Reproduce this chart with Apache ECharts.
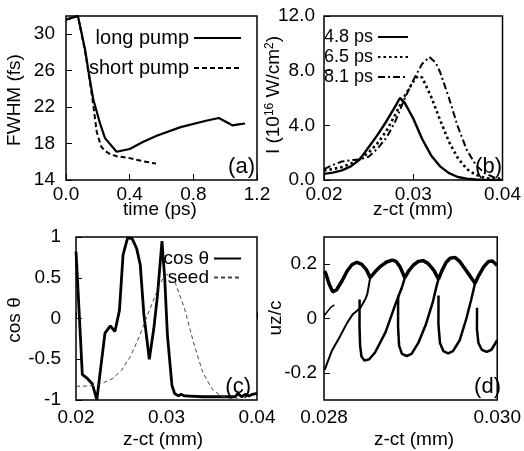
<!DOCTYPE html>
<html><head><meta charset="utf-8">
<script src="https://cdn.jsdelivr.net/npm/echarts@6/dist/echarts.min.js"></script>
<style>html,body{margin:0;padding:0;background:#fff}#c{width:524px;height:451px}</style>
</head><body><div id="c"></div>
<script>
// ---- panel (a): FWHM vs time ----
const aLong = [[0,31.6],[0.075,32.0],[0.12,28.3],[0.15,25.0],[0.172,22.8],[0.214,20.2],[0.245,18.6],[0.318,17.1],[0.40,17.4],[0.486,18.2],[0.57,18.85],[0.72,19.8],[0.88,20.5],[0.96,20.8],[1.045,20.0],[1.085,20.1],[1.125,20.2]];
const aShort = [[0,31.6],[0.075,32.0],[0.12,28.1],[0.15,24.8],[0.17,22.4],[0.193,19.3],[0.22,17.7],[0.245,17.2],[0.28,16.8],[0.32,16.6],[0.40,16.4],[0.486,16.05],[0.565,15.8]];
const aXTicks = [0,0.4,0.8,1.2];
const aYTicks = [14,18,22,26,30];
// ---- panel (b): intensity ----
const b48 = [[0.020,0.45],[0.021,0.54],[0.022,0.7],[0.023,1.0],[0.024,1.5],[0.025,2.4],[0.026,3.3],[0.027,4.3],[0.028,5.4],[0.0285,6.0],[0.029,5.7],[0.030,4.5],[0.031,3.0],[0.032,1.8],[0.033,1.0],[0.034,0.5],[0.035,0.22],[0.036,0.09],[0.037,0.04],[0.038,0.015],[0.040,0]];
const b65 = [[0.020,0.7],[0.021,0.8],[0.022,0.95],[0.023,1.2],[0.024,1.55],[0.025,2.0],[0.026,2.7],[0.027,3.6],[0.028,4.8],[0.029,6.1],[0.030,7.2],[0.0305,7.6],[0.031,7.5],[0.032,6.1],[0.033,4.4],[0.034,2.8],[0.035,1.6],[0.036,0.8],[0.037,0.38],[0.038,0.16],[0.039,0.06],[0.040,0.02]];
const b81 = [[0.020,0.8],[0.021,1.1],[0.022,1.35],[0.023,1.45],[0.024,1.5],[0.025,1.7],[0.026,2.3],[0.027,3.1],[0.028,4.3],[0.029,5.9],[0.030,7.3],[0.031,8.5],[0.0318,9.0],[0.0325,8.6],[0.033,7.9],[0.034,6.0],[0.035,3.9],[0.036,2.2],[0.037,1.1],[0.038,0.5],[0.039,0.2],[0.040,0.08]];
// ---- panel (c): cos theta and seed ----
const cCos = [[0.0200,0.82],[0.0201,0.62],[0.0207,-0.69],[0.0212,-0.73],[0.0218,-0.80],[0.0223,-1.0],[0.0232,-0.18],[0.0238,-0.09],[0.0243,-0.16],[0.0248,0.10],[0.0252,0.78],[0.0257,0.99],[0.0262,0.98],[0.0267,0.86],[0.0271,0.66],[0.0275,0.05],[0.0281,-0.50],[0.0286,-0.12],[0.0290,0.28],[0.0295,0.95],[0.0298,0.50],[0.0301,-0.20],[0.0306,-0.82],[0.0309,-0.92],[0.0313,-0.95],[0.0316,-0.93],[0.032,-0.95],[0.034,-0.96],[0.036,-0.96],[0.0376,-0.96],[0.0379,-0.92],[0.0383,-0.96],[0.0387,-0.93],[0.0391,-0.95],[0.0395,-0.93],[0.040,-0.92]];
const cSeed = [[0.020,-0.83],[0.021,-0.83],[0.022,-0.82],[0.023,-0.79],[0.024,-0.74],[0.025,-0.64],[0.026,-0.47],[0.027,-0.22],[0.028,0.07],[0.029,0.35],[0.0295,0.47],[0.030,0.54],[0.0305,0.52],[0.031,0.43],[0.032,0.12],[0.033,-0.30],[0.034,-0.66],[0.035,-0.86],[0.036,-0.95],[0.037,-0.98],[0.038,-0.99],[0.039,-1.0],[0.040,-1.0]];
// ---- panel (d): uz/c phase space ----
const dUpper = [[0.028006,0.175],[0.028022,0.165],[0.028056,0.13],[0.0281,0.098],[0.028144,0.105],[0.028211,0.14],[0.028267,0.175],[0.028322,0.198],[0.028378,0.207],[0.028433,0.2],[0.028489,0.18],[0.028533,0.15],[0.028589,0.172],[0.028656,0.193],[0.028722,0.208],[0.028789,0.215],[0.028833,0.21],[0.028878,0.19],[0.028933,0.15],[0.028978,0.175],[0.029033,0.197],[0.029089,0.21],[0.029144,0.213],[0.0292,0.203],[0.029267,0.178],[0.029322,0.145],[0.029367,0.18],[0.029411,0.207],[0.029456,0.222],[0.029511,0.225],[0.029567,0.21],[0.029633,0.18],[0.029689,0.155],[0.029744,0.13],[0.029789,0.16],[0.029844,0.19],[0.0299,0.21],[0.029944,0.212],[0.030,0.195]];
const dLeft = [[0.028006,-0.19],[0.028089,-0.12],[0.028178,-0.07],[0.028267,-0.016],[0.028333,0.016],[0.028378,0.028],[0.028422,0.04],[0.028478,0.072],[0.0285,0.09],[0.028533,0.15]];
const dStub = [[0.028006,0.012],[0.028081,0.042],[0.02812,0.05]];
const dLoop1 = [[0.028411,0.07],[0.02841,-0.03],[0.028417,-0.10],[0.028433,-0.14],[0.028467,-0.155],[0.028522,-0.15],[0.028589,-0.125],[0.028711,-0.05],[0.028822,0.05],[0.0289,0.115],[0.028933,0.15]];
const dLoop2 = [[0.028856,0.085],[0.028855,-0.03],[0.028867,-0.10],[0.0289,-0.13],[0.028956,-0.138],[0.029011,-0.13],[0.029089,-0.09],[0.029178,-0.02],[0.029256,0.06],[0.0293,0.12],[0.029322,0.145]];
const dLoop3 = [[0.029322,0.085],[0.029321,-0.02],[0.029339,-0.09],[0.029378,-0.12],[0.029433,-0.128],[0.029489,-0.12],[0.029567,-0.08],[0.029644,0.0],[0.0297,0.07],[0.029744,0.13]];
const dLoop4 = [[0.029767,0.04],[0.029766,-0.04],[0.029783,-0.09],[0.029822,-0.115],[0.029878,-0.123],[0.029933,-0.115],[0.029999,-0.08]];

const FONT = 'Liberation Sans, Arial, Helvetica, sans-serif';
const chart = echarts.init(document.getElementById('c'), null, {renderer:'canvas'});

function xAx(gi, min, max, ticks, dec, margin){
  return {type:'value', gridIndex:gi, min:min, max:max,
    axisLine:{show:false}, splitLine:{show:false},
    axisTick:{show:true, inside:true, length:6, customValues:ticks, lineStyle:{color:'#000',width:1}},
    axisLabel:{customValues:ticks, margin:margin, color:'#000', fontSize:19, fontFamily:FONT,
      formatter:v=>v.toFixed(dec)}};
}
function yAx(gi, min, max, ticks, fmt, margin){
  return {type:'value', gridIndex:gi, min:min, max:max,
    axisLine:{show:false}, splitLine:{show:false},
    axisTick:{show:true, inside:true, length:6, customValues:ticks, lineStyle:{color:'#000',width:1}},
    axisLabel:{customValues:ticks, margin:margin, color:'#000', fontSize:19, fontFamily:FONT, formatter:fmt}};
}
function ln(name, gi, data, width, type, color){
  return {name:name, type:'line', xAxisIndex:gi, yAxisIndex:gi, data:data, symbol:'none', showSymbol:false,
    smooth:false, silent:true, animation:false,
    lineStyle:{color:color||'#000', width:width, type:type||'solid'}, itemStyle:{color:color||'#000'}};
}
const gridBase = {show:true, borderColor:'#000', borderWidth:1.5, backgroundColor:'transparent', containLabel:false};
const txt = (x,y,t,opt)=>Object.assign({type:'text', x:x, y:y, silent:true,
  style:Object.assign({text:t, fill:'#000', font:'19px '+FONT, align:'center', verticalAlign:'middle'}, opt&&opt.style||{})},
  opt&&opt.el||{});
const legBase = {orient:'vertical', align:'right', selectedMode:false, itemHeight:2,
  itemStyle:{opacity:0}};

const option = {
  animation:false,
  backgroundColor:'#fff',
  grid:[
    Object.assign({left:66, top:16, width:191, height:164}, gridBase),
    Object.assign({left:324, top:16, width:179, height:164}, gridBase),
    Object.assign({left:76, top:237, width:181, height:163}, gridBase),
    Object.assign({left:324, top:237, width:180, height:163}, gridBase)
  ],
  xAxis:[
    xAx(0, 0, 1.2, aXTicks, 1, 5),
    xAx(1, 0.02, 0.04, [0.02,0.03,0.04], 2, 5),
    xAx(2, 0.02, 0.04, [0.02,0.03,0.04], 2, 8),
    xAx(3, 0.028, 0.030, [0.028,0.030], 3, 8)
  ],
  yAxis:[
    yAx(0, 14, 32, aYTicks, v=>String(v), 11),
    yAx(1, 0, 12, [0,4,8,12], v=>v.toFixed(1), 9),
    yAx(2, -1, 1, [-1,-0.5,0,0.5,1], v=>String(v), 15),
    yAx(3, -0.3, 0.3, [-0.2,0,0.2], v=>String(Math.round(v*10)/10), 7)
  ],
  legend:[
    Object.assign({data:['long pump','short pump'], right:277, top:23,
     itemWidth:47, itemGap:10,
     textStyle:{fontSize:20, fontFamily:FONT, color:'#000', lineHeight:18}}, legBase),
    Object.assign({data:['4.8 ps','6.5 ps','8.1 ps'], right:110, top:23,
     itemWidth:30, itemGap:2,
     textStyle:{fontSize:18, fontFamily:FONT, color:'#000', lineHeight:18}}, legBase),
    Object.assign({data:['cos θ','seed'], right:277, top:244,
     itemWidth:27, itemGap:0,
     textStyle:{fontSize:19, fontFamily:FONT, color:'#000', lineHeight:16}}, legBase)
  ],
  series:[
    ln('long pump',0,aLong,2.2),
    ln('short pump',0,aShort,2,[5,3]),
    ln('4.8 ps',1,b48,2.4),
    ln('6.5 ps',1,b65,2.6,[2.5,3]),
    ln('8.1 ps',1,b81,2,[7,3,2,3]),
    ln('cos θ',2,cCos,2.8),
    ln('seed',2,cSeed,1,[4,3],'#444'),
    ln('d upper',3,dUpper,3.5),
    ln('d left',3,dLeft,2),
    ln('d stub',3,dStub,1.5),
    ln('d loop1',3,dLoop1,2.5),
    ln('d loop2',3,dLoop2,2.5),
    ln('d loop3',3,dLoop3,2.5),
    ln('d loop4',3,dLoop4,2.5)
  ],
  graphic:[
    txt(15,100,'FWHM (fs)',{el:{rotation:Math.PI/2}}),
    txt(160,210,'time (ps)'),
    {type:'text', x:274, y:95, rotation:Math.PI/2, silent:true,
     style:{text:'{a|I (10}{s|16}{a| W/cm}{s|2}{a|)}', fill:'#000', align:'center', verticalAlign:'middle',
       rich:{a:{font:'19px '+FONT, fill:'#000', lineHeight:20}, s:{font:'12px '+FONT, fill:'#000', verticalAlign:'top', lineHeight:20}}}},
    txt(413,210,'z-ct (mm)'),
    txt(15,320,'cos θ',{el:{rotation:Math.PI/2}}),
    txt(163,440,'z-ct (mm)'),
    txt(276,318,'uz/c',{el:{rotation:Math.PI/2}}),
    txt(414,440,'z-ct (mm)'),
    txt(255,178,'(a)',{style:{font:'22px '+FONT, align:'right', verticalAlign:'bottom'}}),
    txt(502,178,'(b)',{style:{font:'22px '+FONT, align:'right', verticalAlign:'bottom'}}),
    txt(251,398,'(c)',{style:{font:'22px '+FONT, align:'right', verticalAlign:'bottom'}}),
    txt(501,398,'(d)',{style:{font:'22px '+FONT, align:'right', verticalAlign:'bottom'}})
  ]
};
chart.setOption(option);
</script>
</body></html>
